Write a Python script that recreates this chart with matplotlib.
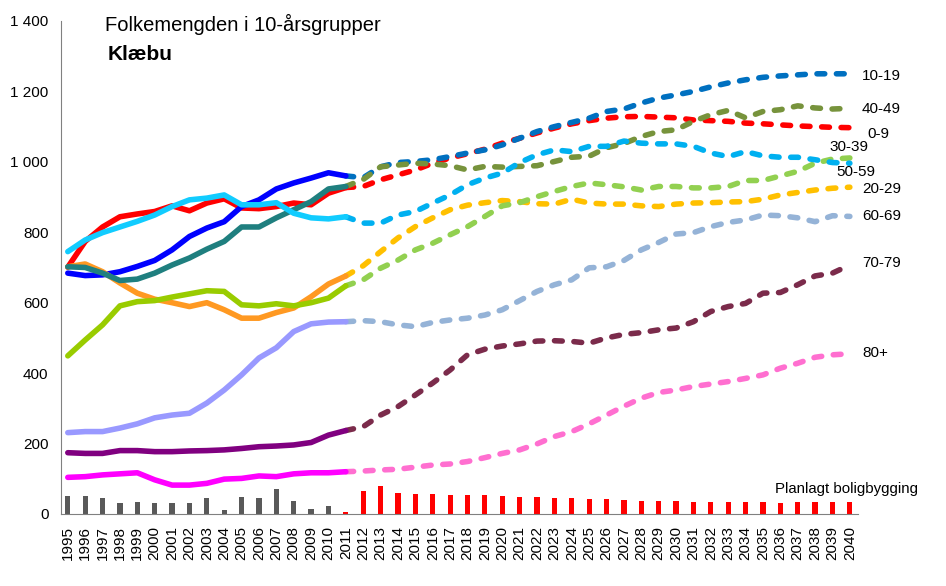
import matplotlib
matplotlib.use("Agg")
import matplotlib.pyplot as plt
from matplotlib.ticker import FuncFormatter

plt.rcParams['font.family'] = ['Liberation Sans', 'DejaVu Sans']

# years
hist_years = list(range(1995, 2012))
proj_years = list(range(2011, 2041))
bar_years_hist = list(range(1995, 2011))
bar_years_plan = list(range(2011, 2041))

# historic values 1995-2011
hist_0_9 = [701, 774, 815, 844, 852, 859, 875, 861, 883, 895, 869, 867, 873, 883, 878, 911, 927]
hist_10_19 = [684, 677, 679, 688, 703, 720, 750, 788, 812, 830, 873, 892, 923, 940, 954, 969, 960]
hist_20_29 = [702, 710, 688, 656, 627, 610, 600, 589, 600, 580, 556, 556, 572, 585, 617, 653, 676]
hist_30_39 = [449, 494, 537, 591, 603, 606, 616, 625, 634, 632, 594, 591, 597, 591, 600, 613, 648]
hist_40_49 = [702, 700, 684, 663, 667, 684, 707, 727, 752, 774, 815, 815, 841, 864, 887, 923, 930]
hist_50_59 = [745, 778, 799, 815, 831, 849, 873, 892, 897, 906, 878, 878, 884, 854, 841, 838, 844]
hist_60_69 = [231, 234, 234, 244, 256, 273, 281, 286, 315, 352, 395, 443, 472, 518, 540, 545, 546]
hist_70_79 = [174, 172, 172, 180, 180, 177, 177, 179, 180, 182, 186, 191, 193, 196, 203, 224, 237]
hist_80 = [104, 106, 111, 114, 117, 97, 82, 82, 87, 99, 101, 108, 106, 114, 117, 117, 120]

# projections 2011-2040
proj_0_9 = [927, 930, 949, 963, 977, 996, 1011, 1023, 1036, 1053, 1067, 1082, 1096, 1108, 1117,
            1124, 1128, 1129, 1127, 1125, 1119, 1117, 1115, 1110, 1108, 1105, 1102, 1100, 1098, 1097]
proj_10_19 = [960, 955, 986, 998, 1001, 1006, 1015, 1025, 1034, 1048, 1067, 1086, 1100, 1112, 1124,
              1143, 1150, 1167, 1181, 1190, 1200, 1213, 1224, 1233, 1240, 1244, 1247, 1250, 1250, 1250]
proj_20_29 = [676, 705, 745, 784, 816, 841, 864, 877, 884, 890, 887, 881, 880, 894, 883,
              880, 880, 875, 873, 880, 883, 884, 886, 887, 894, 906, 913, 920, 925, 928]
proj_30_39 = [648, 665, 698, 721, 750, 769, 793, 816, 845, 875, 884, 901, 916, 930, 940,
              935, 929, 920, 930, 930, 926, 926, 930, 947, 947, 960, 973, 996, 1008, 1011]
proj_40_49 = [930, 950, 986, 991, 996, 994, 989, 977, 987, 985, 987, 989, 1001, 1013, 1016,
              1040, 1052, 1072, 1086, 1091, 1115, 1134, 1146, 1125, 1143, 1148, 1159, 1153, 1150, 1152]
proj_50_59 = [844, 826, 826, 849, 859, 883, 906, 935, 954, 968, 998, 1020, 1034, 1029, 1044,
              1044, 1059, 1053, 1051, 1051, 1044, 1025, 1015, 1029, 1017, 1013, 1013, 1006, 998, 996]
proj_60_69 = [546, 549, 546, 537, 532, 544, 551, 556, 565, 580, 606, 632, 651, 665, 699,
              702, 720, 750, 771, 795, 799, 816, 828, 835, 849, 847, 841, 830, 847, 845]
proj_70_79 = [237, 248, 281, 305, 338, 372, 409, 452, 468, 477, 483, 491, 492, 490, 485,
              500, 510, 515, 523, 528, 546, 575, 589, 598, 627, 629, 651, 676, 684, 707]
proj_80 = [120, 122, 125, 127, 133, 139, 142, 149, 160, 172, 182, 199, 220, 234, 256,
           281, 306, 329, 345, 352, 362, 369, 376, 385, 395, 414, 428, 445, 452, 455]

# housing construction (bars)
built_hist = [52, 51, 45, 30, 35, 32, 32, 30, 46, 10, 47, 46, 71, 37, 13, 22]
built_plan = [7, 66, 80, 60, 57, 57, 55, 55, 53, 51, 49, 47, 46, 45, 43,
              42, 39, 38, 37, 37, 34, 34, 34, 34, 34, 30, 34, 34, 34, 34]

groups = ['0-9', '10-19', '20-29', '30-39', '40-49', '50-59', '60-69', '70-79', '80+']
hist_series = [hist_0_9, hist_10_19, hist_20_29, hist_30_39, hist_40_49,
               hist_50_59, hist_60_69, hist_70_79, hist_80]
proj_series = [proj_0_9, proj_10_19, proj_20_29, proj_30_39, proj_40_49,
               proj_50_59, proj_60_69, proj_70_79, proj_80]

hist_colors = ['#FF0000', '#0000FF', '#FF9922', '#99CC00', '#1F7F7F',
               '#11CCFF', '#9999FF', '#800080', '#FF00FF']
proj_colors = ['#FF0000', '#0070C0', '#FFC000', '#92D050', '#77933C',
               '#00B0F0', '#95B3D7', '#7B2B4B', '#FF6FD0']

# label placement (x in years, y in value units)
label_x = [2041.0, 2040.7, 2040.7, 2038.85, 2040.7, 2039.2, 2040.7, 2040.7, 2040.7]
label_y = [1080, 1244, 923, 1043, 1150, 972, 847, 713, 457]

fig = plt.figure(figsize=(9.46, 5.86), dpi=100)
ax = fig.add_axes([0.0645, 0.1229, 0.8425, 0.8413])

ax.bar(bar_years_hist, built_hist, width=0.3, color='#595959', zorder=2)
ax.bar(bar_years_plan, built_plan, width=0.3, color='#FF0000', zorder=2)

for i in range(len(groups)):
    ax.plot(proj_years, proj_series[i], color=proj_colors[i], lw=4,
            dashes=(1.4, 2.1), dash_capstyle='round', zorder=3)
for i in range(len(groups)):
    ax.plot(hist_years, hist_series[i], color=hist_colors[i], lw=4,
            solid_capstyle='round', solid_joinstyle='round', zorder=4)

for i in range(len(groups)):
    ax.text(label_x[i], label_y[i], groups[i], fontsize=11, va='center', ha='left',
            clip_on=False)
ax.text(2035.7, 71, 'Planlagt boligbygging', fontsize=10.8, va='center', ha='left')

ax.text(0.055, 0.992, 'Folkemengden i 10-årsgrupper', transform=ax.transAxes,
        fontsize=14.5, va='center', ha='left')
ax.text(0.059, 0.931, 'Klæbu', transform=ax.transAxes, fontsize=15,
        fontweight='bold', va='center', ha='left')

ax.set_xlim(1994.61, 2040.47)
ax.set_ylim(0, 1400)
ax.set_yticks(range(0, 1401, 200))
ax.yaxis.set_major_formatter(FuncFormatter(lambda v, p: '{:,}'.format(int(v)).replace(',', ' ')))
ax.set_xticks(list(range(1995, 2041)))
ax.set_xticklabels([str(y) for y in range(1995, 2041)], rotation=90, fontsize=11)
ax.tick_params(axis='y', labelsize=11, length=0, pad=9)
ax.tick_params(axis='x', length=0, pad=9)

for s in ['top', 'right']:
    ax.spines[s].set_visible(False)
ax.spines['left'].set_color('#808080')
ax.spines['bottom'].set_color('#808080')
ax.spines['left'].set_linewidth(0.8)
ax.spines['bottom'].set_linewidth(0.8)

fig.savefig('out.png', dpi=100)
